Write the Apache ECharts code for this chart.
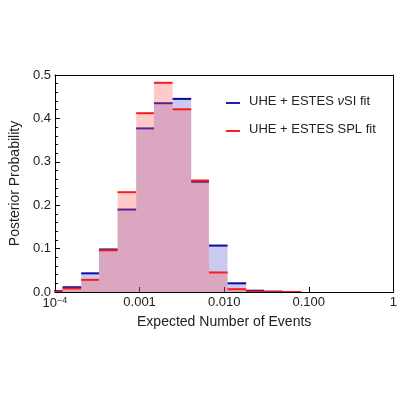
<!DOCTYPE html>
<html><head><meta charset="utf-8">
<script src="https://cdn.jsdelivr.net/npm/echarts@6/dist/echarts.min.js"></script>
<style>html,body{margin:0;padding:0;background:#fff}#c{width:400px;height:400px}</style>
</head><body><div id="c"></div>
<script>
// bin edges in log10(expected number of events)
const binEdges = [-4.13,-3.91,-3.69,-3.48,-3.26,-3.04,-2.83,-2.61,-2.39,-2.18,-1.96,-1.74,-1.53,-1.31,-1.09];
const nsiValues = [0.002,0.011,0.043,0.098,0.19,0.377,0.435,0.445,0.254,0.107,0.02,0.003,0.001,0.0];
const splValues = [0.001,0.008,0.028,0.096,0.23,0.412,0.482,0.421,0.257,0.045,0.0065,0.001,0.0,0.0];
const xTicks = {'-4':'{b|10}{s|−4}','-3':'0.001','-2':'0.010','-1':'0.100','0':'1'};
const yTicks = [0,0.1,0.2,0.3,0.4,0.5];

function mk(name, vals, fill, line){
  const data = vals.map((v,i)=>[binEdges[i],binEdges[i+1],v]);
  return {
    type:'custom', name, data, clip:true, xAxisIndex:0, yAxisIndex:0,
    encode:{x:[0,1],y:2},
    renderItem:(p,api)=>{
      const a=api.coord([api.value(0),api.value(2)]);
      const b=api.coord([api.value(1),0]);
      return {type:'group',children:[
        {type:'rect',shape:{x:a[0],y:a[1],width:b[0]-a[0],height:b[1]-a[1]},style:{fill:fill}},
        {type:'line',shape:{x1:a[0],y1:a[1],x2:b[0],y2:a[1]},style:{stroke:line,lineWidth:2}}
      ]};
    }
  };
}
const lab={fontFamily:'Liberation Sans',fontSize:13,color:'#222'};
const ax={show:true,onZero:false,lineStyle:{color:'#000'}};
const chart=echarts.init(document.getElementById('c'));
chart.setOption({
  animation:false,
  grid:{left:46,right:2,top:75,bottom:108},
  xAxis:[{type:'value',min:-4,max:0,interval:1,
    axisLine:ax,
    axisTick:{inside:true,length:5,lineStyle:{color:'#000'}},
    splitLine:{show:false},
    axisLabel:Object.assign({},lab,{margin:4,formatter:v=>xTicks[String(v)]||'',
      rich:{b:{fontFamily:'Liberation Sans',fontSize:13,color:'#222'},s:{fontFamily:'Liberation Sans',fontSize:9,color:'#222',verticalAlign:'top',padding:[0,0,6,0]}}}),
    name:'Expected Number of Events',nameLocation:'middle',nameGap:23,
    nameTextStyle:{fontFamily:'Liberation Sans',fontSize:14,color:'#222'}},
    {type:'value',position:'top',min:-4,max:0,interval:1,axisLine:ax,axisTick:{show:false},axisLabel:{show:false},splitLine:{show:false}}],
  yAxis:[{type:'value',min:0,max:0.5,interval:0.1,
    axisLine:ax,
    axisTick:{inside:true,length:5,lineStyle:{color:'#000'}},
    minorTick:{show:true,splitNumber:5,length:3,lineStyle:{color:'#000'}},
    splitLine:{show:false},
    axisLabel:Object.assign({},lab,{margin:4,formatter:v=>v.toFixed(1)}),
    name:'Posterior Probability',nameLocation:'middle',nameGap:31,
    nameTextStyle:{fontFamily:'Liberation Sans',fontSize:14,color:'#222'}},
    {type:'value',position:'right',min:0,max:0.5,axisLine:ax,axisTick:{show:false},axisLabel:{show:false},splitLine:{show:false}}],
  legend:{show:false},
  graphic:[
    {type:'line',shape:{x1:226,y1:103,x2:240,y2:103},style:{stroke:'#2020b0',lineWidth:2}},
    {type:'text',left:249,top:95,style:{rich:{a:{fontFamily:'Liberation Sans',fontSize:13,fill:'#222'},i:{fontFamily:'Liberation Sans',fontStyle:'italic',fontSize:13,fill:'#222'}},text:'{a|UHE + ESTES }{i|ν}{a|SI fit}'}},
    {type:'line',shape:{x1:226,y1:131,x2:240,y2:131},style:{stroke:'#ff2020',lineWidth:2}},
    {type:'text',left:249,top:123,style:{text:'UHE + ESTES SPL fit',font:'13px Liberation Sans',fill:'#222'}}
  ],
  series:[
    mk('nsi',nsiValues,'rgba(60,60,200,0.27)','#0a0aa0'),
    mk('spl',splValues,'rgba(255,90,90,0.32)','#ff1a1a')
  ]
});
</script></body></html>
